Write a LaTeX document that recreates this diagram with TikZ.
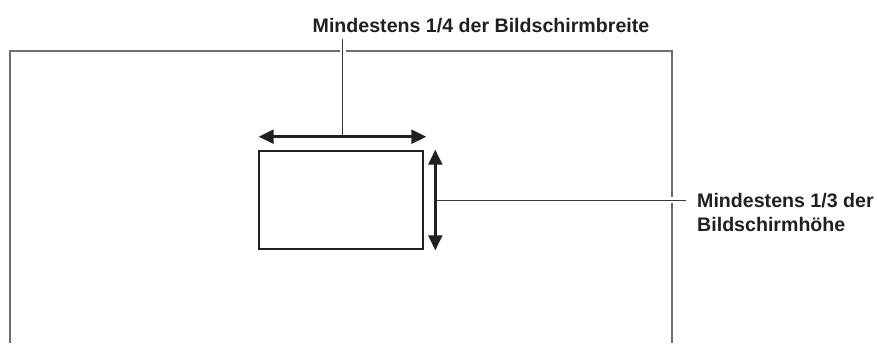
\documentclass[tikz,border=0pt]{standalone}
\usepackage{fontspec}
\setmainfont{Liberation Sans}
\usetikzlibrary{arrows.meta,positioning,calc}

\definecolor{tinte}{HTML}{231F20}
\definecolor{rahmengrau}{HTML}{6E6E6E}
\definecolor{leitgrau}{HTML}{3A3A3A}

\begin{document}
\begin{tikzpicture}[
  x=1pt, y=-1pt,
  font=\bfseries\fontsize{19.6}{24.5}\selectfont,
  every node/.style={inner sep=0pt},
  lbl/.style={text=tinte, align=left},
  bildbox/.style={draw=tinte, fill=white, line width=2.6pt,
    minimum width=164pt, minimum height=98pt},
  rahmen/.style={draw=rahmengrau, line width=1.1pt},
  leiter/.style={draw=leitgrau, line width=1pt,
    preaction={draw=white, line width=6pt}},
  masz/.style={{Triangle[length=15pt, width=14pt]}-{Triangle[length=15pt, width=14pt]},
    draw=tinte, fill=tinte, line width=2.6pt},
]
\useasboundingbox (0,0) rectangle (877,343);

% ===== BILDSCHIRM (Rahmen) =====
\coordinate (lu) at (10,343);
\coordinate (lo) at (10,51);
\coordinate (ro) at (672,51);
\coordinate (ru) at (672,343);
\draw[rahmen] (lu) -- (lo) -- (ro) -- (ru);

% ===== BILDBEREICH =====
\node[bildbox] (bild) at (341,200) {};

% ===== TEXTE =====
\node[lbl, anchor=base] (breite) at (481,32) {Mindestens 1/4 der Bildschirmbreite};
\node[lbl, anchor=north west] (hoehe) at (697,193) {Mindestens 1/3 der\\Bildschirmhöhe};

% ===== MASSPFEILE (Koordinaten) =====
\coordinate (hl) at ([xshift=1pt, yshift=13pt]bild.north west);
\coordinate (hr) at ([xshift=2pt, yshift=13pt]bild.north east);
\coordinate (vo) at ([xshift=11pt]bild.north east);
\coordinate (vu) at ([xshift=11pt]bild.south east);
\coordinate (hm) at ($(hl)!0.5!(hr)$);
\coordinate (vm) at ($(vo)!0.5!(vu)$);

% ===== HINWEISLINIEN =====
\draw[leiter] (hm) -- (hm |- 0,39);
\draw[leiter] (vm) -- (686,0 |- vm);

% ===== MASSPFEILE =====
\draw[masz] (hl) -- (hr);
\draw[masz] (vo) -- (vu);

\end{tikzpicture}
\end{document}
